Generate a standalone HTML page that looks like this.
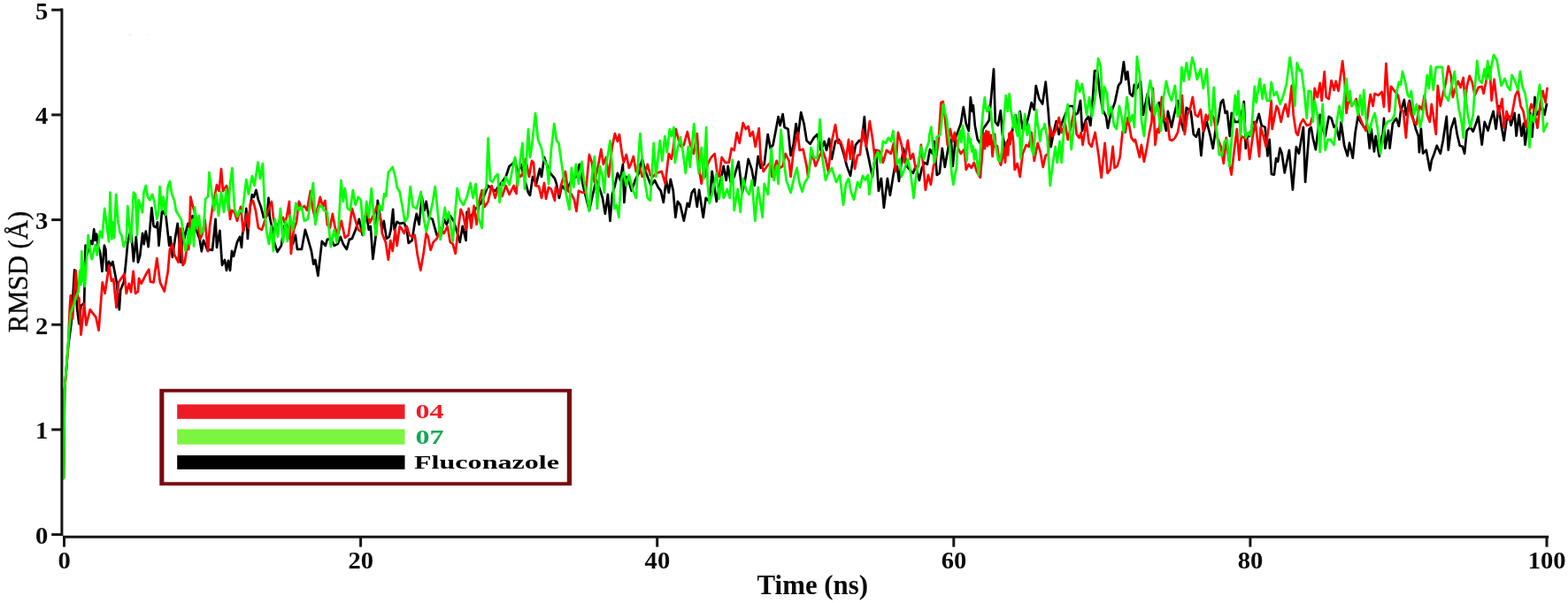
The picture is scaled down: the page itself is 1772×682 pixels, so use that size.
<!DOCTYPE html>
<html lang="en">
<head>
<meta charset="utf-8">
<title>RMSD plot</title>
<style>
html,body{margin:0;padding:0;background:#fff;}
body{width:1772px;height:682px;overflow:hidden;position:relative;font-family:"Liberation Serif",serif;}
svg{display:block;position:absolute;left:0;top:0;}
text{font-family:"Liberation Serif",serif;}
.tick{font-weight:bold;font-size:27.2px;fill:#0a0a0a;}
.ax{stroke:#161616;stroke-width:3;fill:none;stroke-linecap:butt;}
.c{fill:none;stroke-width:2.7;stroke-linejoin:round;stroke-linecap:round;}
</style>
</head>
<body>
<svg width="1772" height="682" viewBox="0 0 1772 682">
<rect x="0" y="0" width="1772" height="682" fill="#ffffff"/>
<ellipse class="speck" cx="147" cy="39.4" rx="2.2" ry="0.9" fill="#ff0000" opacity="0.09"/>
<ellipse class="speck" cx="166.9" cy="39.4" rx="1.6" ry="0.8" fill="#ff0000" opacity="0.06"/>
<polyline class="c" stroke="#000000" points="71.9,541.0 73.0,441.0 77.0,392.0 80.5,366.2 84.2,305.4 87.1,348.6 89.3,366.2 91.5,345.7 95.2,342.8 96.6,277.7 98.4,288.0 102.5,272.6 104.4,276.2 106.2,259.4 107.6,271.8 109.1,264.5 111.0,279.2 113.1,285.0 115.4,306.9 117.9,277.7 119.4,282.1 120.5,306.1 123.0,295.9 125.2,300.3 127.4,295.9 129.6,307.6 131.8,319.3 134.8,350.1 136.2,328.1 139.9,319.3 142.1,298.8 144.3,274.8 148.0,258.6 150.9,295.3 153.8,268.2 156.0,296.7 158.2,289.4 161.1,263.8 162.6,276.2 164.8,261.6 167.7,279.2 171.4,235.2 173.6,255.7 176.5,257.2 178.0,251.3 179.5,277.7 183.1,238.1 187.5,244.0 191.2,277.7 192.7,268.2 194.9,290.9 197.8,270.4 200.7,252.8 202.9,276.2 204.4,296.7 206.6,258.6 208.1,270.4 212.4,252.8 215.4,261.6 217.6,244.0 221.2,258.6 225.6,270.4 227.8,284.3 230.0,271.8 235.0,283.9 235.9,282.1 240.0,282.9 243.6,247.9 245.0,279.9 248.4,260.9 251.0,299.9 254.0,293.9 256.0,305.8 258.0,294.9 260.0,305.8 262.0,283.9 264.0,289.9 268.0,273.9 271.0,267.9 273.0,279.9 273.9,265.9 276.9,251.9 278.3,235.9 279.9,269.9 281.9,239.9 284.9,220.0 286.9,222.9 289.5,215.0 291.9,225.9 294.9,233.9 297.9,245.9 301.9,243.9 303.5,223.9 304.9,245.9 307.9,259.9 309.9,273.9 313.5,284.9 317.9,277.9 320.9,255.9 323.9,253.9 326.9,267.9 330.9,275.9 333.9,265.9 335.9,281.9 340.9,281.9 344.9,259.9 347.9,269.9 351.9,283.9 354.3,298.9 356.3,293.9 359.4,311.8 363.8,272.9 367.8,277.9 369.8,270.9 373.8,269.9 377.8,277.9 381.8,275.9 384.8,267.9 387.8,275.9 391.8,281.9 394.8,270.9 397.8,269.9 401.8,259.9 405.8,247.9 409.8,265.9 413.8,239.9 416.8,259.9 418.8,255.9 421.4,292.9 424.8,265.9 426.8,226.9 428.8,239.9 431.8,259.9 433.8,249.9 436.8,269.9 439.8,267.9 441.7,259.9 444.1,236.9 445.7,259.9 448.7,250.9 451.7,252.9 456.7,251.9 459.7,259.9 461.7,274.9 465.7,271.9 468.7,251.9 470.7,241.9 473.7,253.9 476.7,222.9 479.7,237.9 481.7,227.9 484.7,245.9 488.7,247.9 491.7,258.9 493.7,265.9 498.7,265.9 501.7,247.9 504.7,253.9 508.7,243.9 512.7,249.9 515.7,259.9 519.7,273.9 522.7,255.9 526.6,271.9 527.6,239.9 531.6,245.9 537.6,235.9 543.6,229.9 551.6,210.0 559.6,216.0 571.6,200.0 575.6,188.0 580.6,184.0 582.0,179.9 585.0,195.9 589.0,185.9 592.0,199.9 597.0,217.9 599.0,220.9 602.0,199.9 606.0,207.9 610.0,190.9 612.0,199.9 615.0,177.9 617.0,183.9 621.9,195.9 626.9,201.9 628.9,207.9 631.9,223.9 634.9,209.9 639.9,215.9 645.9,203.9 650.9,199.9 654.9,185.9 658.9,209.9 661.9,221.9 665.9,237.9 669.9,219.9 673.9,203.9 677.9,213.9 680.9,223.9 683.9,241.9 686.9,219.9 689.5,249.8 691.9,219.9 694.9,209.9 697.9,195.9 700.9,203.9 703.9,185.9 705.4,228.9 707.8,199.9 710.8,205.9 713.8,215.9 717.8,203.9 721.8,195.9 725.8,179.9 728.8,191.9 731.8,199.9 735.8,209.9 739.8,203.9 743.8,211.9 746.8,215.9 749.8,228.9 752.8,203.9 755.8,217.9 757.8,202.9 760.8,215.9 763.4,245.8 765.8,227.9 768.8,231.9 772.8,249.8 776.8,229.9 778.8,233.9 781.8,217.9 784.8,213.9 787.8,233.9 790.1,214.9 794.7,245.8 797.7,223.9 801.7,227.9 804.7,193.9 807.7,213.9 809.7,227.9 813.7,207.9 817.7,187.9 820.7,203.9 822.7,187.9 825.7,205.9 829.7,199.9 834.7,182.9 838.7,217.9 841.7,205.9 845.7,179.9 849.7,191.9 852.7,209.9 856.7,176.9 859.7,189.9 863.7,185.9 867.7,152.0 870.7,167.9 873.6,163.9 879.6,132.0 881.6,142.0 884.6,129.0 886.6,144.0 890.6,146.0 893.6,175.9 896.6,163.9 899.6,140.0 901.6,156.0 905.2,127.0 908.6,140.0 911.6,159.0 915.6,162.9 919.6,156.0 923.6,152.0 927.6,169.9 931.6,160.0 934.0,169.9 937.0,156.9 940.0,179.9 944.0,159.9 948.0,157.9 951.0,165.9 954.0,175.9 957.0,187.9 961.0,198.9 964.0,179.9 967.0,163.9 971.0,158.9 973.9,159.9 976.9,132.0 978.9,165.9 981.9,179.9 985.9,199.9 989.9,169.9 992.9,215.9 995.9,201.9 998.9,234.8 1002.9,201.9 1005.9,220.9 1009.9,195.9 1012.9,179.9 1015.9,204.9 1017.9,189.9 1020.9,167.9 1024.9,187.9 1027.9,191.9 1031.9,195.9 1034.9,187.9 1038.9,203.9 1041.9,189.9 1044.9,183.9 1047.9,185.9 1050.9,168.9 1053.9,173.9 1055.8,159.9 1058.8,197.9 1061.8,195.9 1064.8,167.9 1067.8,188.9 1071.8,165.9 1074.8,157.9 1076.8,187.9 1079.8,155.9 1082.8,147.9 1085.8,140.0 1088.8,121.0 1091.8,140.0 1094.8,147.9 1096.8,110.0 1098.8,126.0 1099.8,119.0 1101.8,141.9 1104.8,157.9 1107.8,161.9 1110.8,145.9 1113.8,141.9 1117.8,136.0 1123.0,78.0 1124.8,138.0 1127.8,141.9 1130.8,125.0 1132.8,151.9 1135.8,165.9 1139.7,157.9 1143.7,149.9 1147.7,130.0 1149.7,145.9 1152.7,126.0 1155.7,145.9 1159.7,141.9 1162.7,130.0 1165.7,116.0 1168.7,124.0 1170.7,97.0 1174.3,111.6 1178.1,117.6 1181.7,92.6 1184.7,126.0 1187.7,165.9 1190.7,149.9 1193.7,137.0 1196.7,151.9 1199.7,140.0 1203.7,130.0 1207.7,120.0 1212.7,120.0 1215.0,129.9 1218.0,127.9 1221.0,113.9 1223.0,147.9 1227.0,135.9 1230.0,131.9 1232.4,141.9 1235.0,109.9 1237.0,80.0 1240.0,80.0 1243.0,105.9 1246.0,123.9 1250.0,131.9 1251.9,144.9 1254.9,129.9 1259.9,115.9 1263.9,96.9 1266.9,92.9 1269.9,70.0 1272.3,90.0 1274.3,81.0 1276.9,105.9 1279.9,108.9 1281.9,95.9 1284.9,99.9 1288.9,91.9 1291.9,129.9 1296.9,105.9 1299.9,123.9 1303.9,129.9 1309.9,115.9 1313.9,129.9 1317.9,147.9 1319.9,125.9 1323.9,143.9 1326.9,129.9 1330.9,113.9 1334.9,137.9 1337.8,147.9 1340.8,121.9 1345.8,125.9 1348.8,151.9 1351.8,154.9 1354.8,145.9 1357.4,175.8 1359.8,149.9 1363.8,137.9 1367.8,153.9 1370.8,167.9 1373.8,145.9 1376.8,135.9 1379.8,115.9 1382.2,112.9 1384.8,127.9 1386.8,125.9 1389.8,153.9 1391.8,127.9 1395.8,137.9 1399.8,137.9 1402.8,129.9 1405.8,114.9 1407.8,167.9 1409.8,153.9 1412.8,153.9 1415.8,137.9 1419.7,138.9 1422.7,128.9 1425.7,141.9 1429.7,143.9 1432.5,176.4 1434.7,157.9 1436.9,197.0 1439.9,197.6 1442.1,179.2 1444.1,182.8 1446.5,167.7 1448.7,173.5 1451.7,195.4 1456.9,169.9 1460.9,214.6 1464.9,166.1 1467.9,173.5 1472.9,143.9 1475.1,205.8 1479.7,145.9 1481.7,143.9 1483.7,155.9 1486.9,169.1 1491.7,129.9 1494.7,145.9 1497.7,153.9 1501.7,131.9 1504.6,133.9 1507.6,143.9 1509.6,141.9 1513.6,157.9 1515.6,137.9 1519.2,164.7 1522.8,176.4 1525.0,161.7 1528.8,178.6 1531.6,149.9 1534.6,131.9 1537.6,137.9 1541.6,143.9 1545.6,145.9 1547.8,167.7 1549.6,145.9 1553.0,171.3 1554.6,153.9 1558.8,177.0 1561.6,153.9 1562.0,161.7 1564.0,133.8 1565.4,167.7 1569.0,147.7 1570.6,167.7 1573.9,139.7 1577.9,133.8 1580.9,142.7 1582.9,125.8 1586.9,112.8 1588.9,129.8 1592.9,113.8 1595.9,129.8 1599.9,145.7 1602.9,153.7 1603.9,172.1 1605.9,145.7 1608.1,173.5 1611.8,169.7 1616.0,192.6 1617.8,181.6 1620.8,173.7 1623.8,164.7 1627.8,173.7 1630.8,158.7 1634.8,131.8 1636.8,169.7 1639.8,145.7 1643.8,133.8 1646.7,151.7 1649.7,164.7 1652.7,165.7 1655.1,173.7 1657.7,147.7 1661.7,143.7 1664.7,148.7 1667.7,140.7 1670.7,131.8 1674.7,163.7 1677.7,137.8 1681.6,147.7 1684.6,135.8 1687.6,125.8 1690.6,145.7 1693.6,119.8 1696.6,141.7 1699.6,158.7 1702.6,135.8 1705.6,131.8 1707.6,141.7 1711.6,127.8 1713.6,153.7 1716.6,129.8 1719.5,153.7 1721.9,139.7 1723.5,163.7 1726.5,143.7 1729.5,127.8 1731.5,154.7 1734.5,109.8 1736.5,129.8 1739.5,125.8 1742.5,119.8 1745.5,129.8 1747.9,117.8"/>
<polyline class="c" stroke="#ff0000" points="71.9,541.0 73.0,441.0 77.0,392.0 78.8,348.6 79.8,334.0 82.0,360.4 85.7,306.1 87.9,338.4 89.3,336.9 91.5,378.7 95.2,343.5 97.4,367.7 101.8,350.1 108.4,358.9 111.6,373.6 115.7,319.3 118.6,331.8 123.3,300.3 126.0,317.9 128.2,315.7 131.5,347.9 134.0,319.3 140.6,309.8 142.8,331.8 145.8,320.8 148.0,330.3 150.6,306.9 153.1,331.8 156.0,329.6 157.0,314.9 159.7,320.8 165.5,309.1 168.2,304.7 169.9,318.6 173.6,319.3 177.3,292.2 180.9,319.3 185.8,329.6 189.7,307.6 191.9,282.1 194.9,276.2 197.1,288.0 201.5,296.7 203.7,258.6 206.6,300.0 208.8,296.7 211.0,280.6 213.2,282.1 215.4,222.7 217.6,232.2 221.2,244.0 224.2,258.6 226.4,270.4 228.6,264.5 231.5,248.4 235.0,283.9 235.2,283.6 237.0,255.9 240.0,235.9 243.0,220.0 245.0,209.0 247.6,216.0 250.0,191.0 252.0,216.0 256.0,210.0 258.0,220.0 260.0,247.9 262.0,237.9 265.0,239.9 268.0,249.9 272.0,233.9 274.9,261.9 278.9,241.9 280.9,257.9 282.9,229.9 285.9,226.9 288.9,237.9 291.9,257.9 295.9,259.9 299.9,247.9 302.9,237.9 306.9,227.9 308.9,245.9 311.9,259.9 315.9,249.9 319.9,245.9 321.9,252.9 323.9,245.9 326.9,227.9 328.9,286.9 331.9,259.9 334.9,251.9 337.9,227.9 340.9,235.9 343.9,232.9 346.9,237.9 350.9,216.0 352.9,233.9 355.9,245.9 359.8,231.9 361.8,222.9 364.8,233.9 367.4,226.9 369.8,253.9 372.8,257.9 375.8,241.9 378.8,257.9 381.8,265.9 385.8,249.9 389.8,268.9 393.8,265.9 397.8,235.9 401.8,249.9 404.8,259.9 407.8,261.9 411.8,247.9 414.8,237.9 417.8,251.9 420.8,245.9 423.8,239.9 425.8,232.9 429.8,245.9 431.8,263.9 435.8,273.9 438.8,293.9 441.3,271.9 443.7,283.9 446.7,259.9 448.7,277.9 451.7,255.9 454.7,259.9 456.7,263.9 459.7,255.9 462.7,265.9 465.7,267.9 468.7,265.9 471.7,287.9 475.3,305.8 478.7,285.9 481.7,263.9 483.7,267.9 486.7,282.9 489.7,273.9 493.7,269.9 497.7,257.9 501.7,263.9 505.7,255.9 508.7,273.9 511.7,275.9 514.7,286.9 517.7,259.9 520.7,236.9 523.7,243.9 526.6,259.9 529.6,235.9 532.6,257.9 535.6,232.9 538.6,253.9 541.6,227.9 544.6,215.0 547.6,233.9 551.6,227.9 555.6,210.0 559.6,223.9 563.6,211.0 567.6,221.9 571.6,210.0 575.6,220.0 580.6,210.0 582.0,215.9 583.6,219.0 585.0,195.9 588.0,199.9 591.0,195.9 594.0,179.9 598.0,199.9 601.0,181.9 603.0,183.9 605.0,209.9 609.0,210.9 612.0,223.9 615.0,206.9 617.0,224.9 620.0,211.9 622.9,213.9 626.9,226.9 627.9,211.9 631.9,219.9 633.9,209.9 638.9,193.9 641.9,215.9 645.9,219.9 648.9,225.9 651.5,238.9 653.9,215.9 658.9,217.9 661.9,217.9 665.9,174.9 668.9,183.9 671.9,205.9 675.9,187.9 679.3,168.9 681.9,185.9 684.9,177.9 687.9,199.9 691.9,165.9 694.9,151.0 697.9,160.0 699.9,152.0 702.9,173.9 704.9,183.9 707.8,174.9 710.8,189.9 712.8,185.9 715.8,176.9 718.8,193.9 721.8,185.9 725.8,199.9 728.8,195.9 731.8,185.9 734.8,197.9 737.8,199.9 741.8,195.9 747.8,193.9 751.8,207.9 755.8,173.9 758.8,179.9 760.8,167.9 763.8,146.0 766.8,158.0 769.8,165.9 772.8,163.9 776.8,149.0 779.8,162.9 783.8,173.9 787.8,151.0 790.7,195.9 792.7,207.9 794.7,193.9 796.7,199.9 799.7,185.9 803.7,177.9 807.7,173.9 810.7,197.9 812.7,199.9 815.7,177.9 819.7,183.9 823.7,183.9 826.7,167.9 829.7,169.9 832.7,150.0 835.7,161.9 839.7,139.0 842.7,146.0 845.7,143.0 847.7,154.0 850.7,149.0 853.7,165.9 857.7,145.0 859.7,179.9 862.7,193.9 866.7,187.9 870.7,183.9 872.6,199.9 877.6,181.9 881.6,189.9 884.6,187.9 887.6,173.9 891.6,181.9 893.6,199.9 896.6,171.9 901.6,150.0 903.6,169.9 907.6,168.9 911.6,187.9 913.2,199.9 917.6,171.9 921.6,187.9 925.6,177.9 929.6,169.9 933.0,179.9 936.0,193.9 940.0,159.9 944.0,141.0 947.0,161.9 950.0,159.9 954.0,171.9 956.0,181.9 959.0,157.9 961.0,179.9 963.0,159.9 966.0,190.9 969.0,175.9 971.9,174.9 974.9,146.9 978.9,165.9 982.9,137.0 985.9,155.9 988.9,179.9 991.9,169.9 994.9,171.9 997.9,183.9 1001.9,169.9 1006.9,173.9 1009.9,161.9 1011.9,193.9 1014.9,149.9 1018.9,163.9 1021.9,183.9 1025.9,158.9 1028.9,179.9 1031.9,173.9 1034.9,191.9 1037.9,187.9 1040.9,163.9 1043.9,191.9 1045.9,214.9 1048.9,197.9 1051.9,208.9 1054.9,187.9 1057.8,179.9 1060.8,157.9 1063.4,116.0 1065.8,115.0 1067.8,132.0 1070.8,163.9 1073.8,145.9 1076.8,159.9 1078.8,149.9 1081.8,165.9 1085.8,173.9 1089.8,168.9 1091.8,191.9 1094.8,185.9 1097.8,189.9 1100.8,183.9 1103.8,193.9 1107.8,200.9 1109.5,181.6 1110.7,165.1 1111.8,150.8 1113.0,168.2 1114.4,148.2 1115.9,165.1 1117.2,149.2 1118.5,163.1 1120.0,152.8 1121.6,176.9 1123.1,161.0 1124.1,151.8 1125.4,166.2 1127.0,165.1 1129.0,181.6 1131.1,186.7 1132.9,177.5 1134.3,167.2 1136.0,183.6 1137.4,161.0 1139.1,175.4 1140.5,150.8 1141.6,163.1 1142.7,148.7 1143.9,149.8 1145.2,161.0 1146.7,191.9 1149.7,184.9 1152.7,199.9 1155.7,173.9 1159.7,163.9 1162.7,165.9 1165.7,149.9 1168.7,181.9 1172.7,161.9 1175.7,171.9 1178.7,188.9 1181.7,175.9 1184.7,173.9 1186.7,143.9 1189.7,153.9 1192.7,147.9 1196.7,133.0 1199.7,149.9 1203.7,140.0 1206.7,157.9 1209.7,145.9 1213.7,126.0 1216.7,151.9 1219.7,155.9 1221.7,149.9 1223.6,163.9 1227.6,138.0 1230.6,161.9 1233.6,165.9 1237.6,149.9 1241.6,175.9 1244.6,200.9 1248.6,161.9 1251.6,195.9 1254.6,191.9 1257.6,165.9 1259.6,189.9 1262.6,187.9 1265.6,177.9 1268.6,148.9 1271.6,149.9 1274.6,133.0 1278.6,155.9 1281.6,159.9 1282.9,157.9 1285.9,169.9 1287.9,177.8 1289.9,163.9 1292.9,182.8 1295.9,167.9 1298.9,149.9 1301.5,137.9 1302.9,99.9 1305.5,163.9 1307.9,145.9 1309.9,149.9 1312.9,109.9 1315.9,135.9 1318.9,133.9 1321.9,157.9 1324.9,158.9 1327.9,155.9 1330.9,149.9 1333.9,133.9 1335.8,107.9 1338.8,151.9 1341.8,129.9 1344.8,123.9 1347.8,109.9 1350.8,129.9 1353.8,131.9 1356.8,123.9 1359.8,147.9 1362.8,129.9 1364.8,135.9 1367.8,125.9 1371.8,133.9 1375.8,155.9 1379.8,165.9 1382.8,184.8 1385.8,155.9 1388.2,177.8 1391.6,197.6 1394.8,169.9 1397.8,145.9 1400.4,180.8 1402.8,153.9 1405.8,155.9 1409.8,158.9 1412.2,180.0 1415.8,153.9 1418.7,137.9 1423.1,177.0 1424.7,143.9 1427.7,153.9 1430.7,165.9 1433.7,143.9 1436.7,113.9 1437.7,145.9 1440.7,129.9 1442.7,119.9 1444.7,123.9 1447.7,137.9 1449.7,127.9 1452.7,117.9 1455.7,131.9 1459.7,96.9 1461.7,129.9 1464.7,149.9 1466.7,152.9 1469.7,139.9 1472.7,134.9 1476.7,141.9 1480.7,140.9 1483.7,129.9 1485.7,99.9 1488.7,109.9 1491.7,93.9 1493.7,113.9 1496.7,81.0 1498.7,109.9 1501.7,111.9 1504.6,91.0 1507.6,101.9 1509.6,91.9 1512.6,102.9 1517.2,69.0 1519.6,91.9 1521.6,127.9 1524.6,109.9 1527.6,119.9 1530.6,115.9 1532.6,111.9 1535.6,129.9 1539.6,139.9 1543.6,147.9 1546.6,121.9 1548.6,106.9 1551.6,119.9 1553.6,105.9 1557.6,107.9 1561.6,103.9 1564.0,120.8 1566.4,71.9 1570.0,125.8 1572.0,97.9 1575.9,102.9 1579.9,107.8 1582.9,123.8 1585.9,125.8 1588.9,155.7 1591.9,115.8 1594.9,129.8 1597.9,137.8 1600.9,140.7 1603.9,119.8 1606.9,123.8 1609.8,107.8 1612.8,129.8 1615.8,137.8 1617.8,117.8 1620.8,137.8 1622.8,151.7 1624.8,96.9 1627.8,119.8 1630.8,105.8 1633.8,93.9 1636.8,74.9 1639.8,85.9 1641.8,109.8 1644.8,99.9 1647.7,91.9 1650.7,98.9 1653.7,87.9 1655.7,115.8 1657.7,97.9 1660.7,85.9 1663.7,92.9 1666.7,107.8 1670.7,98.9 1674.7,97.9 1676.7,105.8 1680.7,84.9 1683.6,75.9 1685.6,113.8 1688.6,89.9 1691.6,115.8 1693.6,129.8 1697.6,111.8 1699.6,144.7 1702.6,125.8 1705.6,135.8 1708.6,129.8 1712.6,107.8 1715.6,101.9 1718.5,119.8 1721.5,125.8 1724.5,143.7 1727.5,129.8 1730.5,117.8 1733.5,123.8 1737.5,144.7 1740.5,118.8 1743.5,102.9 1746.5,115.8 1748.5,99.9"/>
<polyline class="c" stroke="#00ff00" points="71.9,541.0 73.0,441.0 76.9,390.0 79.8,354.5 83.5,344.2 87.1,332.5 88.6,330.0 90.2,306.0 91.4,322.0 92.3,284.0 93.4,318.0 94.3,296.0 95.9,324.0 99.6,266.0 102.5,288.0 103.7,293.1 107.6,277.0 109.8,288.7 113.1,261.6 115.4,268.9 118.2,235.9 123.0,273.3 124.5,217.6 126.3,270.4 127.7,251.3 129.2,268.9 131.1,219.8 133.3,249.8 135.5,263.0 137.4,266.0 139.9,279.2 142.8,270.4 144.3,233.0 148.0,274.0 150.9,217.6 153.1,219.8 155.0,266.0 156.7,226.4 158.9,233.0 160.9,240.3 162.6,216.9 164.8,210.0 166.7,222.0 169.2,226.4 172.1,219.8 174.3,227.9 177.3,247.6 179.0,241.0 180.6,211.0 182.8,237.4 184.6,222.7 187.2,243.2 189.7,211.0 191.9,205.1 194.1,219.1 197.1,227.1 199.0,238.8 201.9,243.2 205.1,249.1 206.6,261.6 209.5,283.6 211.7,274.8 213.2,258.6 214.6,276.2 217.6,248.4 219.0,278.4 220.1,234.4 222.7,258.6 224.9,244.0 227.1,264.5 230.0,258.6 232.2,224.9 235.2,222.0 236.4,195.0 239.6,220.0 242.0,237.9 244.4,219.0 247.0,243.9 250.0,217.0 253.0,239.9 255.6,214.0 258.0,237.9 260.0,208.0 262.4,190.0 265.0,235.9 268.0,244.9 271.0,237.9 273.9,239.9 278.3,203.0 280.9,220.0 284.9,199.0 287.5,210.0 291.5,183.6 293.9,202.0 296.9,185.0 298.9,229.9 300.9,259.9 303.9,275.9 306.3,255.9 308.9,283.9 310.9,247.9 313.9,267.9 316.9,235.9 319.9,273.9 322.9,249.9 324.9,272.9 327.9,243.9 330.9,259.9 334.3,229.9 337.9,237.9 340.9,233.9 343.9,249.9 347.9,247.9 350.9,225.9 353.9,207.0 356.3,253.9 359.8,235.9 362.8,231.9 365.8,237.9 369.8,239.9 373.8,278.9 377.8,259.9 380.8,273.9 382.8,255.9 385.4,204.0 387.8,227.9 389.8,213.0 392.8,235.9 395.8,237.9 398.8,215.0 401.8,231.9 404.8,222.9 407.8,225.9 410.8,265.9 414.2,227.9 416.8,245.9 419.8,213.0 422.8,249.9 424.8,265.9 428.8,231.9 431.8,237.9 434.2,219.0 436.2,221.9 438.8,195.0 443.7,189.0 446.7,200.0 448.7,212.0 451.7,217.0 454.7,233.9 457.7,250.9 460.7,245.9 463.7,211.0 466.7,233.9 470.7,235.9 475.7,217.0 478.7,245.9 481.7,261.9 485.3,245.9 488.7,229.9 491.7,211.0 494.7,239.9 497.7,270.9 502.7,234.9 504.7,247.9 507.3,239.9 511.7,272.9 516.7,213.0 519.7,225.9 523.7,231.9 527.6,222.9 531.6,207.0 534.6,223.9 537.6,208.0 540.6,245.9 544.6,257.9 546.6,216.0 549.6,212.0 551.6,156.4 554.0,204.0 556.6,206.0 559.6,200.0 562.6,197.0 564.6,228.9 567.6,206.0 569.6,210.0 571.6,200.0 575.6,209.0 580.6,184.0 582.0,177.9 585.0,209.9 588.0,179.9 590.4,161.9 593.0,213.9 597.0,146.0 599.0,177.9 601.0,165.9 605.0,128.0 608.0,158.0 612.0,167.9 614.0,179.9 618.0,185.9 620.0,207.9 622.9,169.9 626.3,140.0 628.9,159.0 631.5,161.9 633.9,179.9 636.9,199.9 639.9,219.9 643.5,236.9 645.9,189.9 648.3,211.9 650.9,185.9 653.9,207.9 657.5,182.9 659.9,203.9 662.9,219.9 665.9,238.9 668.9,199.9 671.9,176.9 674.9,235.9 677.9,187.9 680.9,199.9 682.9,217.9 684.9,187.9 689.5,159.0 691.9,189.9 694.3,235.9 696.9,231.9 699.3,245.8 701.9,203.9 704.9,194.9 707.8,209.9 710.8,197.9 714.8,213.9 718.8,223.9 720.8,187.9 723.4,151.0 725.8,179.9 728.8,205.9 731.8,223.9 734.8,226.9 738.8,161.9 741.4,199.9 745.8,159.0 748.4,181.9 751.4,154.0 753.8,171.9 756.8,146.0 758.8,154.0 761.4,144.0 762.8,183.9 765.8,167.9 768.8,155.0 771.8,171.9 774.8,195.9 777.8,165.9 779.8,188.9 784.2,140.0 786.8,169.9 789.7,195.9 792.7,166.9 795.3,201.9 798.1,144.0 799.7,207.9 801.7,229.9 805.7,215.9 809.7,195.9 812.7,224.9 815.7,199.9 817.7,223.9 821.7,213.9 824.7,223.9 827.7,180.9 829.7,237.9 833.7,213.9 836.7,239.9 839.7,201.9 843.7,215.9 846.7,219.9 849.7,203.9 853.3,249.8 856.7,211.9 861.7,245.8 863.7,207.9 867.7,219.9 871.7,167.9 874.6,203.9 877.6,187.9 879.6,207.9 882.6,147.0 885.6,179.9 888.6,203.9 893.6,217.9 897.6,199.9 900.6,189.9 903.6,207.9 906.6,216.9 909.6,205.9 913.6,199.9 916.6,166.9 919.6,177.9 923.6,178.9 926.6,135.0 929.6,179.9 933.0,203.9 936.0,195.9 940.0,189.9 943.0,199.9 945.0,205.9 949.0,197.9 953.0,231.8 956.0,207.9 959.0,201.9 962.0,217.9 965.0,225.8 969.0,205.9 971.9,211.9 974.9,198.9 977.9,203.9 980.9,197.9 982.3,219.9 985.9,195.9 988.9,179.9 991.9,171.9 994.9,183.9 997.9,159.9 1000.9,161.9 1003.9,155.9 1006.9,159.9 1009.3,147.9 1011.5,165.9 1013.9,185.9 1016.9,179.9 1018.9,199.9 1021.9,191.9 1025.9,179.9 1028.9,193.9 1032.5,223.9 1034.9,201.9 1037.9,183.9 1040.9,165.9 1043.9,179.9 1046.9,167.9 1049.9,159.9 1050.0,153.9 1052.3,143.6 1054.1,163.1 1055.6,183.6 1057.2,177.5 1058.7,154.9 1060.3,153.9 1062.3,152.8 1063.9,140.5 1065.4,122.1 1066.2,117.9 1068.0,128.2 1070.0,134.4 1071.5,150.8 1073.1,163.1 1074.1,177.5 1075.7,198.0 1077.4,208.9 1079.2,198.0 1080.8,190.8 1081.8,173.4 1082.8,161.0 1084.4,150.8 1085.4,147.7 1086.4,161.0 1088.0,142.1 1089.5,153.9 1091.0,171.3 1092.6,181.6 1094.1,150.8 1095.7,161.0 1096.7,156.9 1098.2,171.3 1099.5,165.1 1101.0,180.5 1102.3,169.3 1104.1,181.6 1105.9,197.9 1107.5,177.5 1109.0,148.7 1110.5,130.3 1111.6,120.0 1112.8,110.0 1114.1,122.1 1115.7,126.2 1117.2,120.0 1119.8,126.2 1121.3,142.6 1122.9,153.9 1124.9,163.1 1126.4,171.3 1128.0,180.5 1130.0,182.6 1132.1,171.3 1133.1,155.9 1134.1,140.5 1135.2,126.2 1136.8,108.0 1138.8,126.0 1140.7,106.0 1142.3,124.1 1143.9,133.3 1145.4,144.6 1147.0,130.3 1148.5,148.7 1150.0,153.9 1151.6,127.2 1152.6,161.0 1153.6,179.5 1155.2,155.9 1156.7,145.7 1158.2,129.2 1159.3,145.7 1160.8,152.8 1162.4,140.5 1163.9,150.8 1165.9,169.3 1168.0,175.4 1169.5,150.8 1171.1,124.1 1172.6,140.5 1174.2,148.7 1175.2,160.0 1177.2,146.7 1179.3,145.1 1180.7,140.0 1183.7,157.9 1186.7,209.9 1189.7,185.9 1192.7,165.9 1194.7,183.9 1197.7,159.9 1199.7,183.9 1202.7,141.9 1206.7,118.0 1208.7,143.9 1210.7,168.9 1213.7,140.0 1214.0,119.9 1217.0,91.0 1220.0,103.9 1223.0,94.9 1226.0,115.9 1228.0,129.9 1231.0,109.9 1234.0,131.9 1238.0,107.9 1241.0,66.0 1244.0,76.0 1246.0,127.9 1248.0,97.9 1251.0,105.9 1252.9,129.9 1255.9,120.9 1258.9,141.9 1261.9,145.9 1264.9,119.9 1267.9,133.9 1269.9,149.9 1273.5,109.9 1276.9,137.9 1279.9,129.9 1281.9,143.9 1284.9,64.0 1287.9,84.0 1289.9,135.9 1292.9,153.9 1296.9,107.9 1299.9,91.0 1302.9,107.9 1304.9,129.9 1307.9,117.9 1311.9,147.9 1314.9,109.9 1317.9,91.9 1320.9,105.9 1323.9,113.9 1327.9,96.9 1330.9,131.9 1332.9,129.9 1335.4,76.0 1337.8,91.9 1340.8,71.0 1343.8,90.0 1347.4,65.0 1349.8,74.0 1352.8,90.0 1356.8,78.0 1359.8,99.9 1363.8,78.0 1366.8,123.9 1368.8,141.9 1371.8,98.9 1374.8,145.9 1377.8,174.9 1380.8,175.8 1383.8,159.9 1386.8,157.9 1389.4,187.8 1392.8,145.9 1395.8,107.9 1397.8,129.9 1399.4,102.9 1401.8,153.9 1404.8,117.9 1407.8,155.9 1410.8,149.9 1413.8,153.9 1417.8,97.9 1419.7,115.9 1423.7,89.0 1426.7,111.9 1428.7,95.9 1431.7,113.9 1434.7,113.9 1436.7,92.9 1439.7,107.9 1442.7,103.9 1446.7,117.9 1449.7,109.9 1453.7,95.9 1457.7,65.0 1460.7,86.0 1463.3,119.9 1465.7,71.0 1468.7,80.0 1470.7,79.0 1473.7,101.9 1476.7,133.9 1478.7,102.9 1481.7,103.9 1483.7,137.9 1485.7,113.9 1488.7,129.9 1491.7,171.9 1494.7,117.9 1497.7,169.9 1500.7,157.9 1503.6,157.9 1507.6,163.9 1510.6,137.9 1513.6,119.9 1516.6,137.9 1519.2,107.9 1521.6,89.0 1523.6,113.9 1525.6,102.9 1527.6,119.9 1531.6,113.9 1534.6,129.9 1537.2,107.9 1539.6,129.9 1541.2,101.9 1543.6,133.9 1547.6,149.9 1550.6,135.9 1553.6,127.9 1556.6,143.9 1559.6,171.9 1560.0,173.7 1562.0,161.7 1565.0,143.7 1568.0,137.8 1573.0,135.8 1575.9,129.8 1577.9,105.8 1580.9,92.9 1582.9,95.9 1584.9,80.9 1587.9,91.9 1590.9,107.8 1592.9,109.8 1594.9,102.9 1597.9,129.8 1600.9,117.8 1602.9,129.8 1604.9,143.7 1607.9,129.8 1610.8,103.8 1612.8,84.9 1614.8,99.9 1616.8,74.9 1619.8,101.9 1622.8,75.9 1629.8,75.9 1632.8,107.8 1636.8,113.8 1639.8,99.9 1643.8,80.9 1645.7,101.9 1648.7,123.8 1651.7,137.8 1653.7,155.7 1655.7,101.9 1658.7,129.8 1661.7,143.7 1664.7,129.8 1666.7,99.9 1669.3,68.9 1671.7,89.9 1674.7,93.9 1677.7,77.9 1679.3,89.9 1681.2,68.9 1683.6,89.9 1685.6,73.9 1688.0,62.0 1691.6,67.9 1694.6,85.9 1696.6,96.9 1700.6,88.9 1703.6,97.9 1706.6,101.9 1708.6,84.9 1712.6,92.9 1715.6,101.9 1717.9,80.9 1720.5,97.9 1723.5,105.8 1726.5,125.8 1728.5,166.7 1730.5,129.8 1733.5,137.8 1736.5,119.8 1739.9,95.9 1742.5,115.8 1744.5,148.7 1748.5,139.7"/>
<path class="ax" d="M69.9 9.6 V606.1"/>
<path class="ax" d="M70.9 607.2 H1750.2"/>
<path class="ax" d="M58.2 604.6 H70"/>
<path class="ax" d="M58.2 485.9 H70"/>
<path class="ax" d="M58.2 367.2 H70"/>
<path class="ax" d="M58.2 248.6 H70"/>
<path class="ax" d="M58.2 129.9 H70"/>
<path class="ax" d="M58.2 11.2 H70"/>
<path class="ax" d="M72.5 606 V618.6"/>
<path class="ax" d="M407.6 606 V618.6"/>
<path class="ax" d="M742.7 606 V618.6"/>
<path class="ax" d="M1077.8 606 V618.6"/>
<path class="ax" d="M1412.9 606 V618.6"/>
<path class="ax" d="M1748.0 606 V618.6"/>
<text class="tick" x="54.2" y="615.1" text-anchor="end" textLength="14.3" lengthAdjust="spacingAndGlyphs">0</text>
<text class="tick" x="54.2" y="496.4" text-anchor="end" textLength="14.3" lengthAdjust="spacingAndGlyphs">1</text>
<text class="tick" x="54.2" y="377.7" text-anchor="end" textLength="14.3" lengthAdjust="spacingAndGlyphs">2</text>
<text class="tick" x="54.2" y="259.1" text-anchor="end" textLength="14.3" lengthAdjust="spacingAndGlyphs">3</text>
<text class="tick" x="54.2" y="140.4" text-anchor="end" textLength="14.3" lengthAdjust="spacingAndGlyphs">4</text>
<text class="tick" x="54.2" y="21.7" text-anchor="end" textLength="14.3" lengthAdjust="spacingAndGlyphs">5</text>
<text class="tick" x="72.7" y="642.7" text-anchor="middle" textLength="14.3" lengthAdjust="spacingAndGlyphs">0</text>
<text class="tick" x="407.8" y="642.7" text-anchor="middle" textLength="28.6" lengthAdjust="spacingAndGlyphs">20</text>
<text class="tick" x="742.9" y="642.7" text-anchor="middle" textLength="28.6" lengthAdjust="spacingAndGlyphs">40</text>
<text class="tick" x="1078.0" y="642.7" text-anchor="middle" textLength="28.6" lengthAdjust="spacingAndGlyphs">60</text>
<text class="tick" x="1413.1" y="642.7" text-anchor="middle" textLength="28.6" lengthAdjust="spacingAndGlyphs">80</text>
<text class="tick" x="1748.2" y="642.7" text-anchor="middle" textLength="42.9" lengthAdjust="spacingAndGlyphs">100</text>
<text x="855.6" y="671.8" textLength="125.4" lengthAdjust="spacingAndGlyphs" style="font-weight:bold;font-size:32.5px;fill:#0a0a0a">Time (ns)</text>
<text transform="translate(30.5 376.3) rotate(-90)" textLength="137.5" lengthAdjust="spacingAndGlyphs" style="font-size:31.5px;fill:#0a0a0a;stroke:#0a0a0a;stroke-width:0.35">RMSD (Å)</text>
<rect x="180.3" y="439.8" width="465.8" height="109.4" fill="#7a0a12"/>
<rect x="185.4" y="443.7" width="455.4" height="101.5" fill="#ffffff"/>
<rect x="200.2" y="457.4" width="257.3" height="16.4" fill="#ed1c24"/>
<rect x="200.2" y="485.4" width="257.3" height="17.3" fill="#7cf540"/>
<rect x="200.2" y="515" width="257.3" height="15.8" fill="#000000"/>
<text x="469.4" y="473.4" textLength="32" lengthAdjust="spacingAndGlyphs" style="font-weight:bold;font-size:23.6px;fill:#ed1c24">04</text>
<text x="469.4" y="502" textLength="32" lengthAdjust="spacingAndGlyphs" style="font-weight:bold;font-size:23.6px;fill:#10a850">07</text>
<text x="468" y="529.6" textLength="164" lengthAdjust="spacingAndGlyphs" style="font-weight:bold;font-size:21.6px;fill:#000">Fluconazole</text>
</svg>
</body>
</html>
